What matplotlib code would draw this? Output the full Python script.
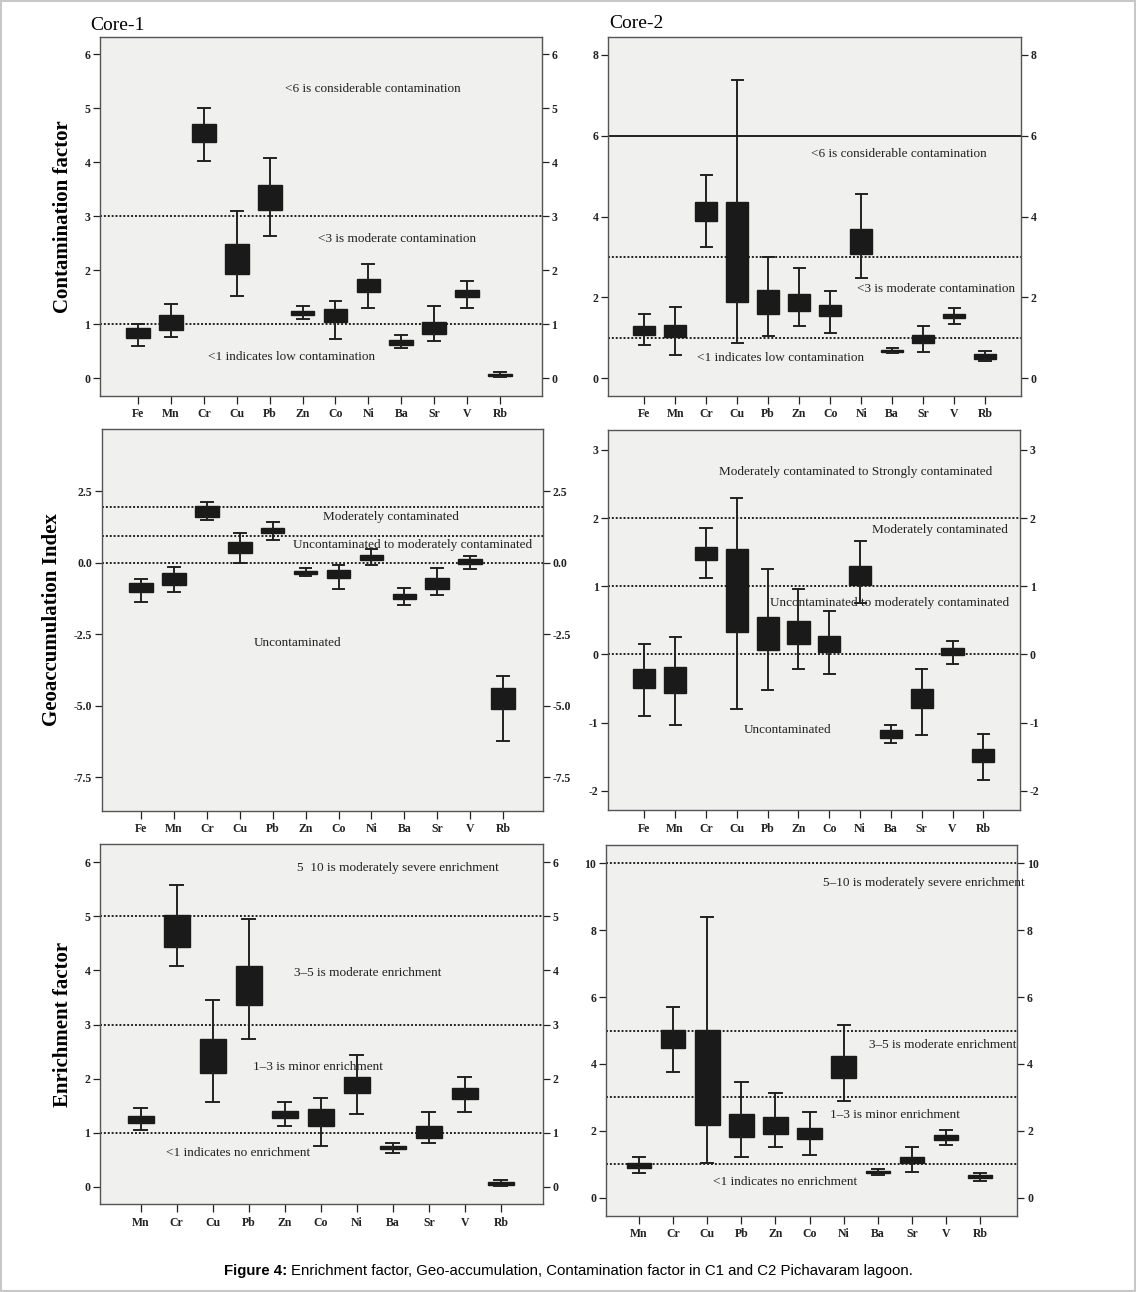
import matplotlib
matplotlib.use('Agg')
from matplotlib import pyplot as plt
from matplotlib.patches import Rectangle

plt.rcParams['font.family'] = ['Liberation Serif', 'DejaVu Serif']
plt.rcParams['axes.unicode_minus'] = False

W, H = 1136, 1292

elems_all = ['Fe', 'Mn', 'Cr', 'Cu', 'Pb', 'Zn', 'Co', 'Ni', 'Ba', 'Sr', 'V', 'Rb']
elems_ef = ['Mn', 'Cr', 'Cu', 'Pb', 'Zn', 'Co', 'Ni', 'Ba', 'Sr', 'V', 'Rb']

# Contamination factor, Core-1
cf1_lo = [0.60, 0.76, 4.03, 1.52, 2.63, 1.10, 0.72, 1.31, 0.57, 0.70, 1.31, 0.02]
cf1_q1 = [0.75, 0.89, 4.37, 1.93, 3.12, 1.17, 1.05, 1.60, 0.62, 0.82, 1.50, 0.04]
cf1_q3 = [0.93, 1.18, 4.71, 2.49, 3.58, 1.25, 1.28, 1.83, 0.71, 1.04, 1.63, 0.08]
cf1_hi = [1.00, 1.37, 5.00, 3.10, 4.07, 1.33, 1.44, 2.12, 0.81, 1.33, 1.81, 0.11]

# Contamination factor, Core-2
cf2_lo = [0.82, 0.57, 3.26, 0.87, 1.05, 1.29, 1.11, 2.49, 0.62, 0.66, 1.34, 0.43]
cf2_q1 = [1.07, 1.01, 3.90, 1.90, 1.59, 1.67, 1.53, 3.08, 0.64, 0.88, 1.48, 0.49]
cf2_q3 = [1.29, 1.33, 4.37, 4.37, 2.19, 2.09, 1.81, 3.70, 0.70, 1.06, 1.60, 0.59]
cf2_hi = [1.60, 1.77, 5.02, 7.39, 3.01, 2.73, 2.17, 4.55, 0.74, 1.30, 1.75, 0.68]

# Geoaccumulation index, Core-1
ig1_lo = [-1.36, -1.02, 1.49, 0.00, 0.79, -0.47, -0.93, -0.07, -1.46, -1.12, -0.21, -6.23]
ig1_q1 = [-1.02, -0.78, 1.61, 0.35, 1.05, -0.38, -0.54, 0.09, -1.28, -0.90, -0.05, -5.12]
ig1_q3 = [-0.72, -0.35, 1.98, 0.73, 1.23, -0.28, -0.27, 0.26, -1.09, -0.55, 0.12, -4.39]
ig1_hi = [-0.58, -0.14, 2.13, 1.05, 1.43, -0.17, -0.09, 0.48, -0.88, -0.17, 0.24, -3.95]

# Geoaccumulation index, Core-2
ig2_lo = [-0.90, -1.03, 1.12, -0.80, -0.52, -0.21, -0.28, 0.76, -1.30, -1.18, -0.14, -1.84]
ig2_q1 = [-0.49, -0.57, 1.38, 0.33, 0.07, 0.15, 0.03, 1.02, -1.22, -0.79, -0.01, -1.57]
ig2_q3 = [-0.21, -0.18, 1.58, 1.55, 0.55, 0.49, 0.27, 1.30, -1.11, -0.50, 0.09, -1.39]
ig2_hi = [0.16, 0.26, 1.86, 2.30, 1.25, 0.96, 0.63, 1.66, -1.03, -0.21, 0.19, -1.17]

# Enrichment factor, Core-1
ef1_lo = [1.05, 4.09, 1.57, 2.73, 1.13, 0.75, 1.34, 0.63, 0.80, 1.38, 0.01]
ef1_q1 = [1.17, 4.43, 2.11, 3.37, 1.27, 1.13, 1.74, 0.70, 0.91, 1.63, 0.04]
ef1_q3 = [1.31, 5.02, 2.73, 4.08, 1.40, 1.44, 2.03, 0.75, 1.12, 1.82, 0.08]
ef1_hi = [1.45, 5.58, 3.45, 4.96, 1.57, 1.65, 2.44, 0.81, 1.38, 2.03, 0.12]

# Enrichment factor, Core-2
ef2_lo = [0.73, 3.75, 1.03, 1.22, 1.53, 1.29, 2.88, 0.69, 0.77, 1.57, 0.50]
ef2_q1 = [0.90, 4.47, 2.16, 1.81, 1.90, 1.74, 3.57, 0.74, 1.03, 1.71, 0.60]
ef2_q3 = [1.05, 5.01, 5.01, 2.50, 2.42, 2.09, 4.24, 0.80, 1.23, 1.87, 0.67]
ef2_hi = [1.23, 5.70, 8.40, 3.47, 3.14, 2.55, 5.18, 0.85, 1.53, 2.01, 0.75]

box_col = '#1a1a1a'
dot = (0, (1, 1))


def panel(fig, rect, names, lo, q1, q3, hi, xlim, ylim, yticks, lines, notes,
          ylabel=None, ytl=None):
    l, t, r, b = rect
    ax = fig.add_axes([l / W, 1 - b / H, (r - l) / W, (b - t) / H])
    ax.set_facecolor('#f0f0ef')
    stats = []
    for i in range(len(names)):
        stats.append(dict(whislo=lo[i], q1=q1[i], med=q1[i], q3=q3[i],
                          whishi=hi[i], label=names[i]))
    # reference lines go under the boxes
    for y, ls in lines:
        ax.axhline(y, color='#222222', linestyle=ls, linewidth=1.4, zorder=1)
    ax.bxp(stats, positions=list(range(len(names))), widths=0.72,
           capwidths=0.36, showfliers=False, patch_artist=True,
           boxprops=dict(facecolor=box_col, edgecolor=box_col, linewidth=1),
           whiskerprops=dict(color='#222222', linewidth=1.4),
           capprops=dict(color='#222222', linewidth=1.4),
           medianprops=dict(linewidth=0), zorder=3)
    ax.set_xlim(xlim)
    ax.set_ylim(ylim)
    ax.set_yticks(yticks)
    if ytl is not None:
        ax.set_yticklabels(ytl)
    ax.set_xticks(range(len(names)))
    ax.set_xticklabels(names)
    ax.tick_params(axis='y', left=True, right=True, labelleft=True,
                   labelright=True, length=5, width=0.9, labelsize=8.5,
                   direction='out', pad=2, colors='#222222')
    ax.tick_params(axis='x', length=6, width=0.9, labelsize=8.5, pad=3,
                   colors='#222222')
    for lab in ax.get_xticklabels() + ax.get_yticklabels():
        lab.set_fontweight('bold')
    for lab in ax.yaxis.get_ticklabels(which='both'):
        lab.set_fontweight('bold')
    for sp in ax.spines.values():
        sp.set_color('#555555')
        sp.set_linewidth(1.0)
    for x, y, s in notes:
        ax.text(x, y, s, ha='center', va='center', fontsize=9.5,
                color='#222222', zorder=4)
    if ylabel:
        ax.set_ylabel(ylabel, fontsize=15, fontweight='bold', labelpad=8)
    return ax


fig = plt.figure(figsize=(W / 100, H / 100), dpi=100)

panel(fig, (100, 36.7, 541.7, 395.7), elems_all, cf1_lo, cf1_q1, cf1_q3, cf1_hi,
      (-1.16, 12.27), (-0.32, 6.32), range(0, 7),
      [(3, dot), (1, dot)],
      [(7.13, 5.35, '<6 is considerable contamination'),
       (7.86, 2.57, '<3 is moderate contamination'),
       (4.67, 0.39, '<1 indicates low contamination')],
      ylabel='Contamination factor')

panel(fig, (608.3, 36.7, 1020.7, 395.7), elems_all, cf2_lo, cf2_q1, cf2_q3, cf2_hi,
      (-1.16, 12.15), (-0.43, 8.45), range(0, 9, 2),
      [(6, '-'), (3, dot), (1, dot)],
      [(8.22, 5.54, '<6 is considerable contamination'),
       (9.42, 2.22, '<3 is moderate contamination'),
       (4.41, 0.51, '<1 indicates low contamination')])

panel(fig, (101.7, 429.3, 542.7, 810.7), elems_all, ig1_lo, ig1_q1, ig1_q3, ig1_hi,
      (-1.19, 12.2), (-8.66, 4.66), [2.5, 0.0, -2.5, -5.0, -7.5],
      [(1.95, dot), (0.95, dot), (0.0, dot)],
      [(7.59, 1.59, 'Moderately contaminated'),
       (8.24, 0.61, 'Uncontaminated to moderately contaminated'),
       (4.77, -2.79, 'Uncontaminated')],
      ylabel='Geoaccumulation Index',
      ytl=['2.5', '0.0', '-2.5', '-5.0', '-7.5'])

panel(fig, (608.3, 430, 1020, 810), elems_all, ig2_lo, ig2_q1, ig2_q3, ig2_hi,
      (-1.17, 12.19), (-2.28, 3.29), range(-2, 4),
      [(2, dot), (1, dot), (0, dot)],
      [(6.87, 2.68, 'Moderately contaminated to Strongly contaminated'),
       (9.6, 1.82, 'Moderately contaminated'),
       (7.97, 0.75, 'Uncontaminated to moderately contaminated'),
       (4.65, -1.11, 'Uncontaminated')])

panel(fig, (100, 844, 542.7, 1204), elems_ef, ef1_lo, ef1_q1, ef1_q3, ef1_hi,
      (-1.13, 11.16), (-0.32, 6.34), range(0, 7),
      [(5, dot), (3, dot), (1, dot)],
      [(7.13, 5.89, '5  10 is moderately severe enrichment'),
       (6.29, 3.96, '3\u20135 is moderate enrichment'),
       (4.91, 2.21, '1\u20133 is minor enrichment'),
       (2.70, 0.63, '<1 indicates no enrichment')],
      ylabel='Enrichment factor')

panel(fig, (606, 845, 1017.3, 1215.7), elems_ef, ef2_lo, ef2_q1, ef2_q3, ef2_hi,
      (-0.97, 11.09), (-0.54, 10.55), range(0, 11, 2),
      [(10, dot), (5, dot), (3, dot), (1, dot)],
      [(8.36, 9.42, '5\u201310 is moderately severe enrichment'),
       (8.9, 4.57, '3\u20135 is moderate enrichment'),
       (7.51, 2.47, '1\u20133 is minor enrichment'),
       (4.27, 0.48, '<1 indicates no enrichment')])

fig.text(90 / W, 1 - 25 / H, 'Core-1', fontsize=14, ha='left', va='center')
fig.text(609 / W, 1 - 23 / H, 'Core-2', fontsize=14, ha='left', va='center')

# caption: bold lead-in then plain text
cap1 = fig.text(224 / W, 1 - 1271 / H, 'Figure 4:', fontsize=10.8,
                fontweight='bold', family='Liberation Sans', ha='left', va='center')
rend = fig.canvas.get_renderer()
bb = cap1.get_window_extent(renderer=rend)
fig.text(bb.x1 / W + 4 / W, 1 - 1271 / H,
         'Enrichment factor, Geo-accumulation, Contamination factor in C1 and C2 Pichavaram lagoon.',
         fontsize=10.8, family='Liberation Sans', ha='left', va='center')

# thin border round the whole figure
fig.patches.append(Rectangle((0.001, 0.001), 0.998, 0.998, transform=fig.transFigure,
                             fill=False, edgecolor='#c8c8c8', linewidth=1.5))

plt.savefig('out.png', dpi=100)
plt.close()
